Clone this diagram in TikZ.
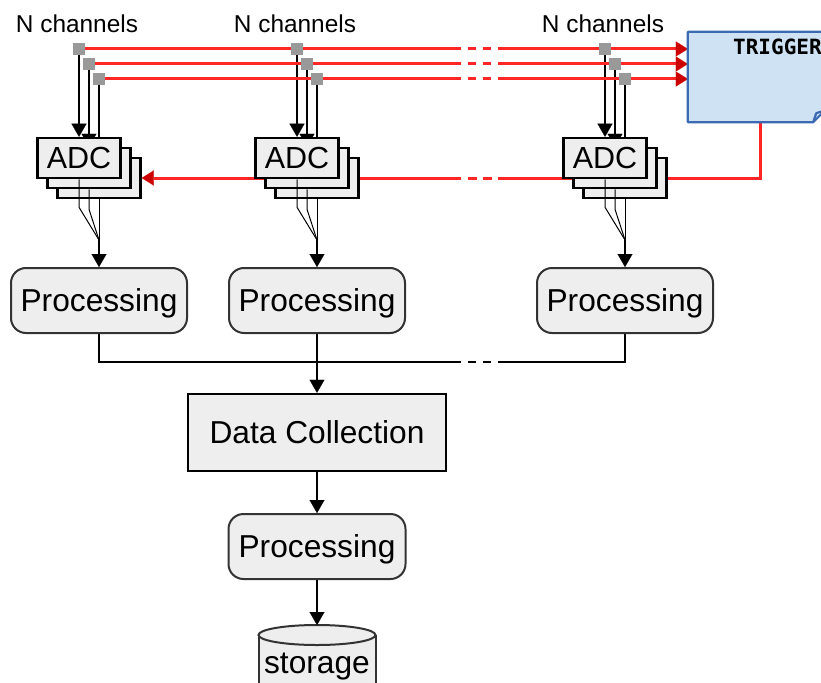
\documentclass[tikz,border=0pt]{standalone}
\usepackage{fontspec}
\setmainfont{Liberation Sans}
\newfontfamily\trigfont{DejaVu Sans Mono}
\usetikzlibrary{arrows.meta,calc}
\pgfdeclarelayer{bg}
\pgfsetlayers{bg,main}
\definecolor{redl}{RGB}{255,38,38}
\definecolor{redh}{RGB}{204,0,0}
\definecolor{boxfill}{RGB}{238,238,238}
\definecolor{procdraw}{RGB}{51,51,51}
\definecolor{sqgray}{RGB}{153,153,153}
\definecolor{trigfill}{RGB}{207,226,243}
\definecolor{trigdraw}{RGB}{60,106,178}
\begin{document}
\begin{tikzpicture}[x=1pt,y=-1pt,
  bigtxt/.style={font=\fontsize{31.7}{36}\selectfont, text height=22.5pt, text depth=0pt, inner sep=0pt},
  adcbox/.style={font=\fontsize{30.5}{34}\selectfont, text height=21.5pt, text depth=0pt, inner sep=0pt,
    draw=black, line width=2.5pt, fill=boxfill, minimum width=83pt, minimum height=40pt},
  procbox/.style={bigtxt, draw=procdraw, line width=2pt, fill=boxfill, rounded corners=15pt, minimum width=176pt, minimum height=65pt},
  dcbox/.style={bigtxt, draw=black, line width=2.5pt, fill=boxfill, minimum width=258pt, minimum height=77pt},
  sqbox/.style={fill=sqgray, minimum size=12pt, inner sep=0pt},
  chlabel/.style={font=\fontsize{24.4}{28}\selectfont, anchor=base, inner sep=0pt},
  redline/.style={draw=redl, line width=3pt},
  redarrow/.style={redline, -{Triangle[width=15pt,length=12pt,color=redh,line width=0.1pt]}},
  gapdash/.style={dash pattern=on 0pt off 6.5pt on 8.5pt off 6.5pt on 8.5pt off 7pt},
  fanline/.style={draw=black, line width=1pt},
  blkline/.style={draw=black, line width=2.8pt},
  blkarrow/.style={draw=black, line width=2.3pt, -{Triangle[width=15pt,length=13pt,line width=0.1pt]}},
  cylline/.style={draw=procdraw, line width=2pt},
  trigline/.style={draw=trigdraw, line width=2.2pt, line join=round}
]
\useasboundingbox (0,0) rectangle (821,682);

% gap positions
\coordinate (gA) at (461,0);
\coordinate (gB) at (498,0);
\coordinate (bus) at (0,362);

% trigger box
\node[minimum width=137pt, minimum height=90pt, inner sep=0pt] (trig) at (756.5,77) {};
\draw[trigline, fill=trigfill] (trig.north west) -- (trig.north east) -- ([yshift=12pt]trig.south east)
  -- ([xshift=-12pt]trig.south east) -- (trig.south west) -- cycle;
\draw[trigline] ([xshift=-12pt]trig.south east) -- ([xshift=-9pt,yshift=9pt]trig.south east) -- ([yshift=12pt]trig.south east);
\node[anchor=base west, font=\trigfont\bfseries\fontsize{21}{24}\selectfont, inner sep=0pt] (trigl) at (733,55) {TRIGGER};

% channel groups
\foreach \g/\c in {1/79,2/297,3/605} {
  \node[chlabel] (l\g) at ({\c-2},33) {N channels};
  \node[adcbox] (a\g3) at ({\c+20},178) {};
  \node[adcbox] (a\g2) at ({\c+10},168) {};
  \node[adcbox] (a\g1) at (\c,158) {ADC};
  \node[sqbox] (s\g1) at (\c,49) {};
  \node[sqbox] (s\g2) at ({\c+10},64) {};
  \node[sqbox] (s\g3) at ({\c+20},79) {};
  \node[procbox] (p\g) at ({\c+20},300.5) {Processing};
  \coordinate (j\g) at ({\c+20},240);
  \begin{pgfonlayer}{bg}
    \foreach \k in {1,2,3} {
      \draw[blkarrow] (s\g\k.south) -- (a\g\k.north);
    }
  \end{pgfonlayer}
  \draw[fanline] (a\g1.south) -- ++(0,28) -- (j\g);
  \draw[fanline] (a\g2.south) -- ++(0,20) -- (j\g);
  \draw[fanline] (a\g3.south) -- (j\g);
  \draw[blkarrow] (j\g) -- (p\g.north);
}

% red channel lines to trigger
\begin{pgfonlayer}{bg}
\foreach \k in {1,2,3} {
  \draw[redline] (s1\k.east) -- (s1\k -| gA);
  \draw[redline, gapdash] (s1\k -| gA) -- (s1\k -| gB);
  \draw[redarrow] (s1\k -| gB) -- (s1\k -| trig.west);
}
% trigger return line
\draw[redline] ([xshift=3.5pt]trig.south) |- (gB |- a13);
\draw[redline, gapdash] (gB |- a13) -- (gA |- a13);
\draw[redarrow] (gA |- a13) -- (a13.east);
\end{pgfonlayer}

% data collection
\node[dcbox] (dc) at (317,432.5) {Data Collection};
\draw[blkline] (p1.south) |- (gA |- bus);
\draw[blkline, gapdash] (gA |- bus) -- (gB |- bus);
\draw[blkline] (gB |- bus) -| (p3.south);
\draw[blkarrow, line width=2.8pt] (p2.south) -- (dc.north);

% final processing
\node[procbox, minimum width=177pt] (p4) at (317,546.5) {Processing};
\draw[blkarrow, line width=2.6pt] (dc.south) -- (p4.north);

% storage cylinder
\fill[boxfill] (258.5,635) rectangle (375.5,700);
\draw[cylline] (258.5,635) -- (258.5,700);
\draw[cylline] (375.5,635) -- (375.5,700);
\draw[cylline, fill=boxfill] (317,635) ellipse [x radius=58.5, y radius=10];
\node[bigtxt] (st) at (317,662) {storage};
\coordinate (sttop) at (317,625);
\draw[blkarrow, line width=2.6pt] (p4.south) -- (sttop);
\end{tikzpicture}
\end{document}
